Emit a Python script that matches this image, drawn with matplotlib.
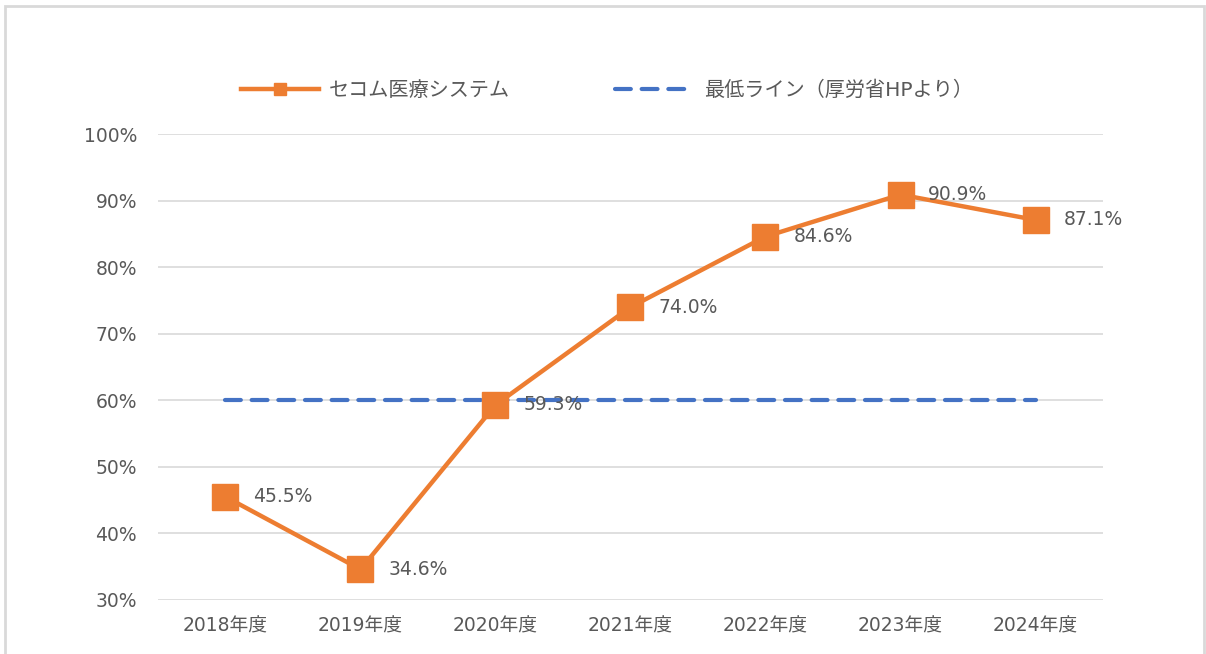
import matplotlib
matplotlib.use("Agg")
import matplotlib.pyplot as plt
from matplotlib.lines import Line2D
from matplotlib.patches import Rectangle

plt.rcParams['font.family'] = ['DejaVu Sans', 'Noto Sans CJK JP']

years = ["2018年度", "2019年度", "2020年度", "2021年度", "2022年度", "2023年度", "2024年度"]
secom = [45.5, 34.6, 59.3, 74.0, 84.6, 90.9, 87.1]
minimum = [60, 60, 60, 60, 60, 60, 60]
yticks = [30, 40, 50, 60, 70, 80, 90, 100]

orange = "#ED7D31"
blue = "#4472C4"
gray = "#595959"
dash = (0, (3.8, 2.6))

fig = plt.figure(figsize=(12.06, 6.54), dpi=100)
ax = fig.add_axes([0.131, 0.0826, 0.7836, 0.7124])

x = list(range(len(years)))
ax.plot(x, minimum, color=blue, lw=3, ls=dash, dash_capstyle='round', zorder=2)
ax.plot(x, secom, color=orange, lw=3.2, marker='s', markersize=19, zorder=3)

for xi, v in zip(x, secom):
    ax.annotate(f"{v:.1f}%", (xi, v), xytext=(20, 0), textcoords='offset points',
                va='center', ha='left', fontsize=13.5, color=gray, zorder=4)

ax.set_xlim(-0.5, len(years) - 0.5)
ax.set_ylim(30, 100)
ax.set_yticks(yticks)
ax.set_yticklabels([f"{t}%" for t in yticks], fontsize=13.5, color=gray)
ax.set_xticks(x)
ax.set_xticklabels(years, fontsize=13.5, color=gray)
ax.grid(axis='y', color='#D9D9D9', lw=1.2)
ax.set_axisbelow(True)
for s in ax.spines.values():
    s.set_visible(False)
ax.tick_params(length=0)
ax.tick_params(axis='y', pad=15)
ax.tick_params(axis='x', pad=12)

handles = [
    Line2D([], [], color=orange, lw=3.2, marker='s', markersize=8),
    Line2D([], [], color=blue, lw=3, ls=dash, dash_capstyle='round'),
]
fig.legend(handles, ["セコム医療システム", "最低ライン（厚労省HPより）"], loc='center',
           bbox_to_anchor=(0.503, 0.862), ncol=2, frameon=False, fontsize=14.5,
           labelcolor=gray, handlelength=3.9, columnspacing=5.2, handletextpad=0.5)

fig.patches.append(Rectangle((5 / 1206, -0.05), 1199 / 1206, 1.05 - 6 / 654,
                             transform=fig.transFigure, fill=False,
                             edgecolor='#D9D9D9', lw=2))

fig.savefig("out.png", dpi=100)
